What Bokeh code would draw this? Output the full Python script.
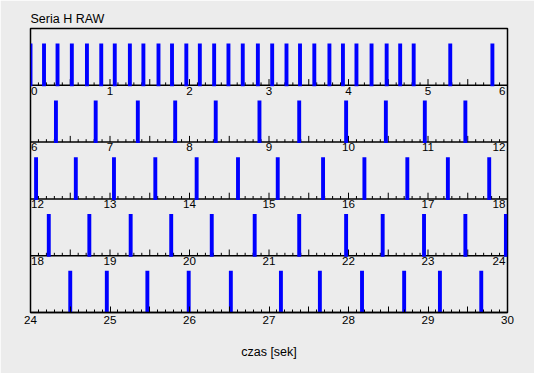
import numpy as np
from bokeh.plotting import figure
from bokeh.models import ColumnDataSource, FixedTicker, Range1d
from bokeh.core.properties import value
from bokeh.embed import file_html
from bokeh.resources import INLINE

# ---------------- data ----------------
title_text = "Seria H RAW"
x_label = "czas [sek]"
row_starts = [0, 6, 12, 18, 24]          # seconds at the start of each row
row_length = 6                            # seconds per row
second_labels = [str(s) for s in range(0, 31)]
event_times = [
    0.00, 0.17, 0.34, 0.52, 0.71, 0.89, 1.06, 1.25, 1.42, 1.61, 1.78, 1.96,
    2.13, 2.31, 2.49, 2.67, 2.86, 3.04, 3.22, 3.39, 3.57, 3.76, 3.93, 4.10,
    4.29, 4.48, 4.65, 4.82, 5.28, 5.81,
    6.32, 6.82, 7.35, 7.82, 8.33, 8.88, 9.38, 9.97, 10.47, 10.96, 11.47,
    12.07, 12.57, 13.05, 13.57, 14.09, 14.61, 15.11, 15.68, 16.20, 16.74, 17.25, 17.77,
    18.23, 18.74, 19.26, 19.77, 20.28, 20.82, 21.38, 21.97, 22.43, 22.95, 23.47, 23.98,
    24.50, 24.96, 25.47, 25.99, 26.52, 27.15, 27.64, 28.17, 28.70, 29.15, 29.67,
]

# ---------------- layout constants ----------------
FONT = "Liberation Sans"
BG = "#ececec"
W, H = 534, 373
ML, MR, MT, MB = 30, 27, 28, 61
FRAME_W = W - ML - MR
FRAME_H = H - MT - MB
n_rows = len(row_starts)
ROW_PX = FRAME_H / n_rows
PX_X = FRAME_W / row_length
BAR_W_PX = 3.9
BAR_H_PX = 41.7
MAJ_PX, MIN_PX = 6.2, 2.9
LABEL_SIZE = "11.6px"

p = figure(width=W, height=H, x_range=Range1d(0, row_length), y_range=Range1d(0, n_rows),
           output_backend="svg", toolbar_location=None, y_axis_location=None,
           min_border_left=ML, min_border_right=MR, min_border_top=MT, min_border_bottom=MB,
           background_fill_color=BG, border_fill_color=BG)
p.grid.visible = False
p.outline_line_color = "black"
p.outline_line_width = 1.5

p.title.text = title_text
p.title.text_font = FONT
p.title.text_font_size = "12.5px"
p.title.text_font_style = "normal"
p.title.text_color = "black"
p.title.align = "left"
p.title.offset = 0
p.title.standoff = 6

# bottom (last row) axis
halves = [k * 0.5 for k in range(2 * row_length + 1)]
tenths = [round(k * 0.1, 1) for k in range(10 * row_length + 1)]
ax = p.xaxis[0]
ax.ticker = FixedTicker(ticks=halves, minor_ticks=tenths)
last = row_starts[-1]
ax.major_label_overrides = {h: (second_labels[last + int(h)] if float(h).is_integer() else "") for h in halves}
ax.axis_line_color = "black"
ax.axis_line_width = 1.5
ax.major_tick_in = int(round(MAJ_PX))
ax.major_tick_out = 0
ax.minor_tick_in = int(round(MIN_PX))
ax.minor_tick_out = 0
ax.major_tick_line_color = "black"
ax.minor_tick_line_color = "black"
ax.major_label_text_font = FONT
ax.major_label_text_font_size = LABEL_SIZE
ax.major_label_text_color = "black"
ax.major_label_standoff = 3
ax.axis_label = x_label
ax.axis_label_text_font = FONT
ax.axis_label_text_font_size = "12.5px"
ax.axis_label_text_font_style = "normal"
ax.axis_label_text_color = "black"
ax.axis_label_standoff = 18

# baselines of rows (row 0 at the top)
baselines = [n_rows - 1 - r for r in range(n_rows)]

# axis lines and ticks for the upper rows
lx0, lx1, ly = [], [], []
tx, ty0, ty1 = [], [], []
for r in range(n_rows - 1):
    b = baselines[r]
    lx0.append(0); lx1.append(row_length); ly.append(b)
    for t in tenths:
        tx.append(t); ty0.append(b)
        is_major = abs(t * 2 - round(t * 2)) < 1e-9
        ty1.append(b + (MAJ_PX if is_major else MIN_PX) / ROW_PX)
p.segment(x0=lx0, x1=lx1, y0=ly, y1=ly, line_color="black", line_width=1.5)
p.segment(x0=tx, x1=tx, y0=ty0, y1=ty1, line_color="black", line_width=1)

# tick labels for the upper rows
lab = dict(x=[], y=[], text=[], align=[], xo=[])
for r in range(n_rows - 1):
    for k in range(row_length + 1):
        lab["x"].append(k)
        lab["y"].append(baselines[r] - 1.3 / ROW_PX)
        lab["text"].append(second_labels[row_starts[r] + k])
        if k == 0:
            lab["align"].append("left"); lab["xo"].append(0.5)
        elif k == row_length:
            lab["align"].append("right"); lab["xo"].append(-2)
        else:
            lab["align"].append("center"); lab["xo"].append(0)
p.text(x="x", y="y", text="text", source=ColumnDataSource(lab), text_align="align",
       x_offset="xo", text_baseline="top", text_font=value(FONT),
       text_font_size=value(LABEL_SIZE), text_color="black")

# event bars
rows = [min(int(np.floor(t / row_length)), n_rows - 1) for t in event_times]
bars = ColumnDataSource(dict(
    x=[t - row_starts[r] for t, r in zip(event_times, rows)],
    bottom=[baselines[r] - 1.0 / ROW_PX for r in rows],
    top=[baselines[r] + BAR_H_PX / ROW_PX for r in rows],
))
p.vbar(x="x", bottom="bottom", top="top", width=BAR_W_PX / PX_X, source=bars,
       fill_color="#0000ff", line_color=None)

open("out.html", "w").write(file_html(p, INLINE))
